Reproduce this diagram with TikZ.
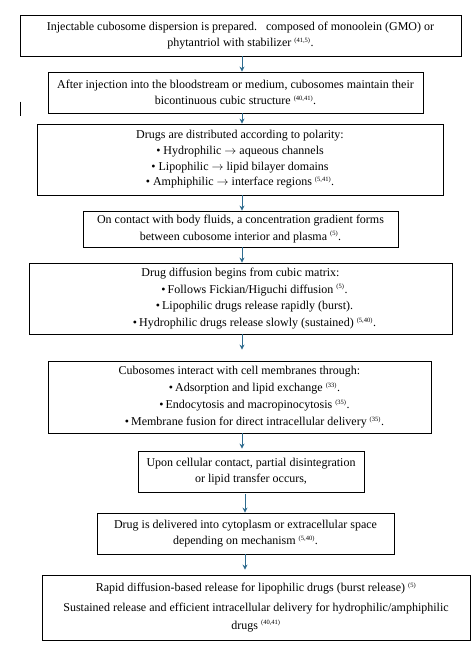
\documentclass[tikz,border=0pt]{standalone}
\usepackage{fontspec}
\setmainfont{Liberation Serif}
\usetikzlibrary{arrows.meta}
\definecolor{arrblue}{HTML}{2E6B8E}
\newcommand{\rfx}[1]{\textsuperscript{\fontsize{6.5}{7}\selectfont(#1)}}
\newcommand{\bdot}{{\large\textbullet}}
\newcommand{\rarr}{$\rightarrow$}
\begin{document}
\begin{tikzpicture}[x=1pt,y=-1pt,
  box/.style={draw=black,line width=0.8pt,align=center,inner sep=0pt,
    font=\fontsize{12}{16.5}\selectfont},
  arr/.style={draw=arrblue,line width=0.9pt,-{Stealth[length=5pt,width=5pt]}}]
\useasboundingbox (0,0) rectangle (473,651);
\coordinate (ax) at (242,0);
\coordinate (bx) at (245,0);
\node[box,minimum width=441,minimum height=41] (b1) at (240.5,35.5)
  {Injectable cubosome dispersion is prepared.\ \ \ composed of monoolein (GMO) or\\
   phytantriol with stabilizer \rfx{41,5}.};
\node[box,minimum width=375,minimum height=41] (b2) at (235.5,92.5)
  {After injection into the bloodstream or medium, cubosomes maintain their\\
   bicontinuous cubic structure \rfx{40,41}.};
\node[box,minimum width=406,minimum height=71,font=\fontsize{12}{15.7}\selectfont] (b3) at (240,159.5)
  {Drugs are distributed according to polarity:\\
   • Hydrophilic \rarr{} aqueous channels\\
   • Lipophilic \rarr{} lipid bilayer domains\\
   • Amphiphilic \rarr{} interface regions \rfx{5,41}.};
\node[box,minimum width=315,minimum height=36] (b4) at (240.5,229)
  {On contact with body fluids, a concentration gradient forms\\
   between cubosome interior and plasma \rfx{5}.};
\node[box,minimum width=423,minimum height=71,font=\fontsize{12}{16.7}\selectfont] (b5) at (240.5,298.5)
  {Drug diffusion begins from cubic matrix:\\
   \hspace*{28pt}\bdot\,Follows Fickian/Higuchi diffusion \rfx{5}.\\
   \hspace*{28pt}\bdot\,Lipophilic drugs release rapidly (burst).\\
   \hspace*{28pt}\bdot\,Hydrophilic drugs release slowly (sustained) \rfx{5,40}.};
\node[box,minimum width=383,minimum height=72,font=\fontsize{12}{17}\selectfont] (b6) at (239.5,397)
  {Cubosomes interact with cell membranes through:\\
   \hspace*{30pt}\bdot\,Adsorption and lipid exchange \rfx{33}.\\
   \hspace*{30pt}\bdot\,Endocytosis and macropinocytosis \rfx{35}.\\
   \hspace*{30pt}\bdot\,Membrane fusion for direct intracellular delivery \rfx{35}.};
\node[box,minimum width=226,minimum height=41] (b7) at (251,471.5)
  {Upon cellular contact, partial disintegration\\
   or lipid transfer occurs,};
\node[box,minimum width=297,minimum height=41] (b8) at (245.5,533.5)
  {Drug is delivered into cytoplasm or extracellular space\\
   depending on mechanism \rfx{5,40}.};
\node[box,minimum width=428,minimum height=65,font=\fontsize{12}{17.7}\selectfont] (b9) at (256,607.5)
  {Rapid diffusion-based release for lipophilic drugs (burst release) \rfx{5}\\[2pt]
   Sustained release and efficient intracellular delivery for hydrophilic/amphiphilic\\
   drugs \rfx{40,41}};
\draw[arr] (b1.south -| ax) -- (b2.north -| ax);
\draw[arr] (b2.south -| ax) -- (b3.north -| ax);
\draw[arr] (b3.south -| ax) -- (b4.north -| ax);
\draw[arr] (b4.south -| ax) -- (b5.north -| ax);
\draw[arr,shorten >=11pt] (b5.south -| ax) -- (b6.north -| ax);
\draw[arr,shorten >=2pt] (b6.south -| ax) -- (b7.north -| ax);
\draw[arr,shorten <=2pt] (b7.south -| bx) -- (b8.north -| bx);
\draw[arr,shorten >=5pt] (b8.south -| bx) -- (b9.north -| bx);
\draw[line width=0.8pt] (20.5,101.5) -- (20.5,115.5);
\end{tikzpicture}
\end{document}
